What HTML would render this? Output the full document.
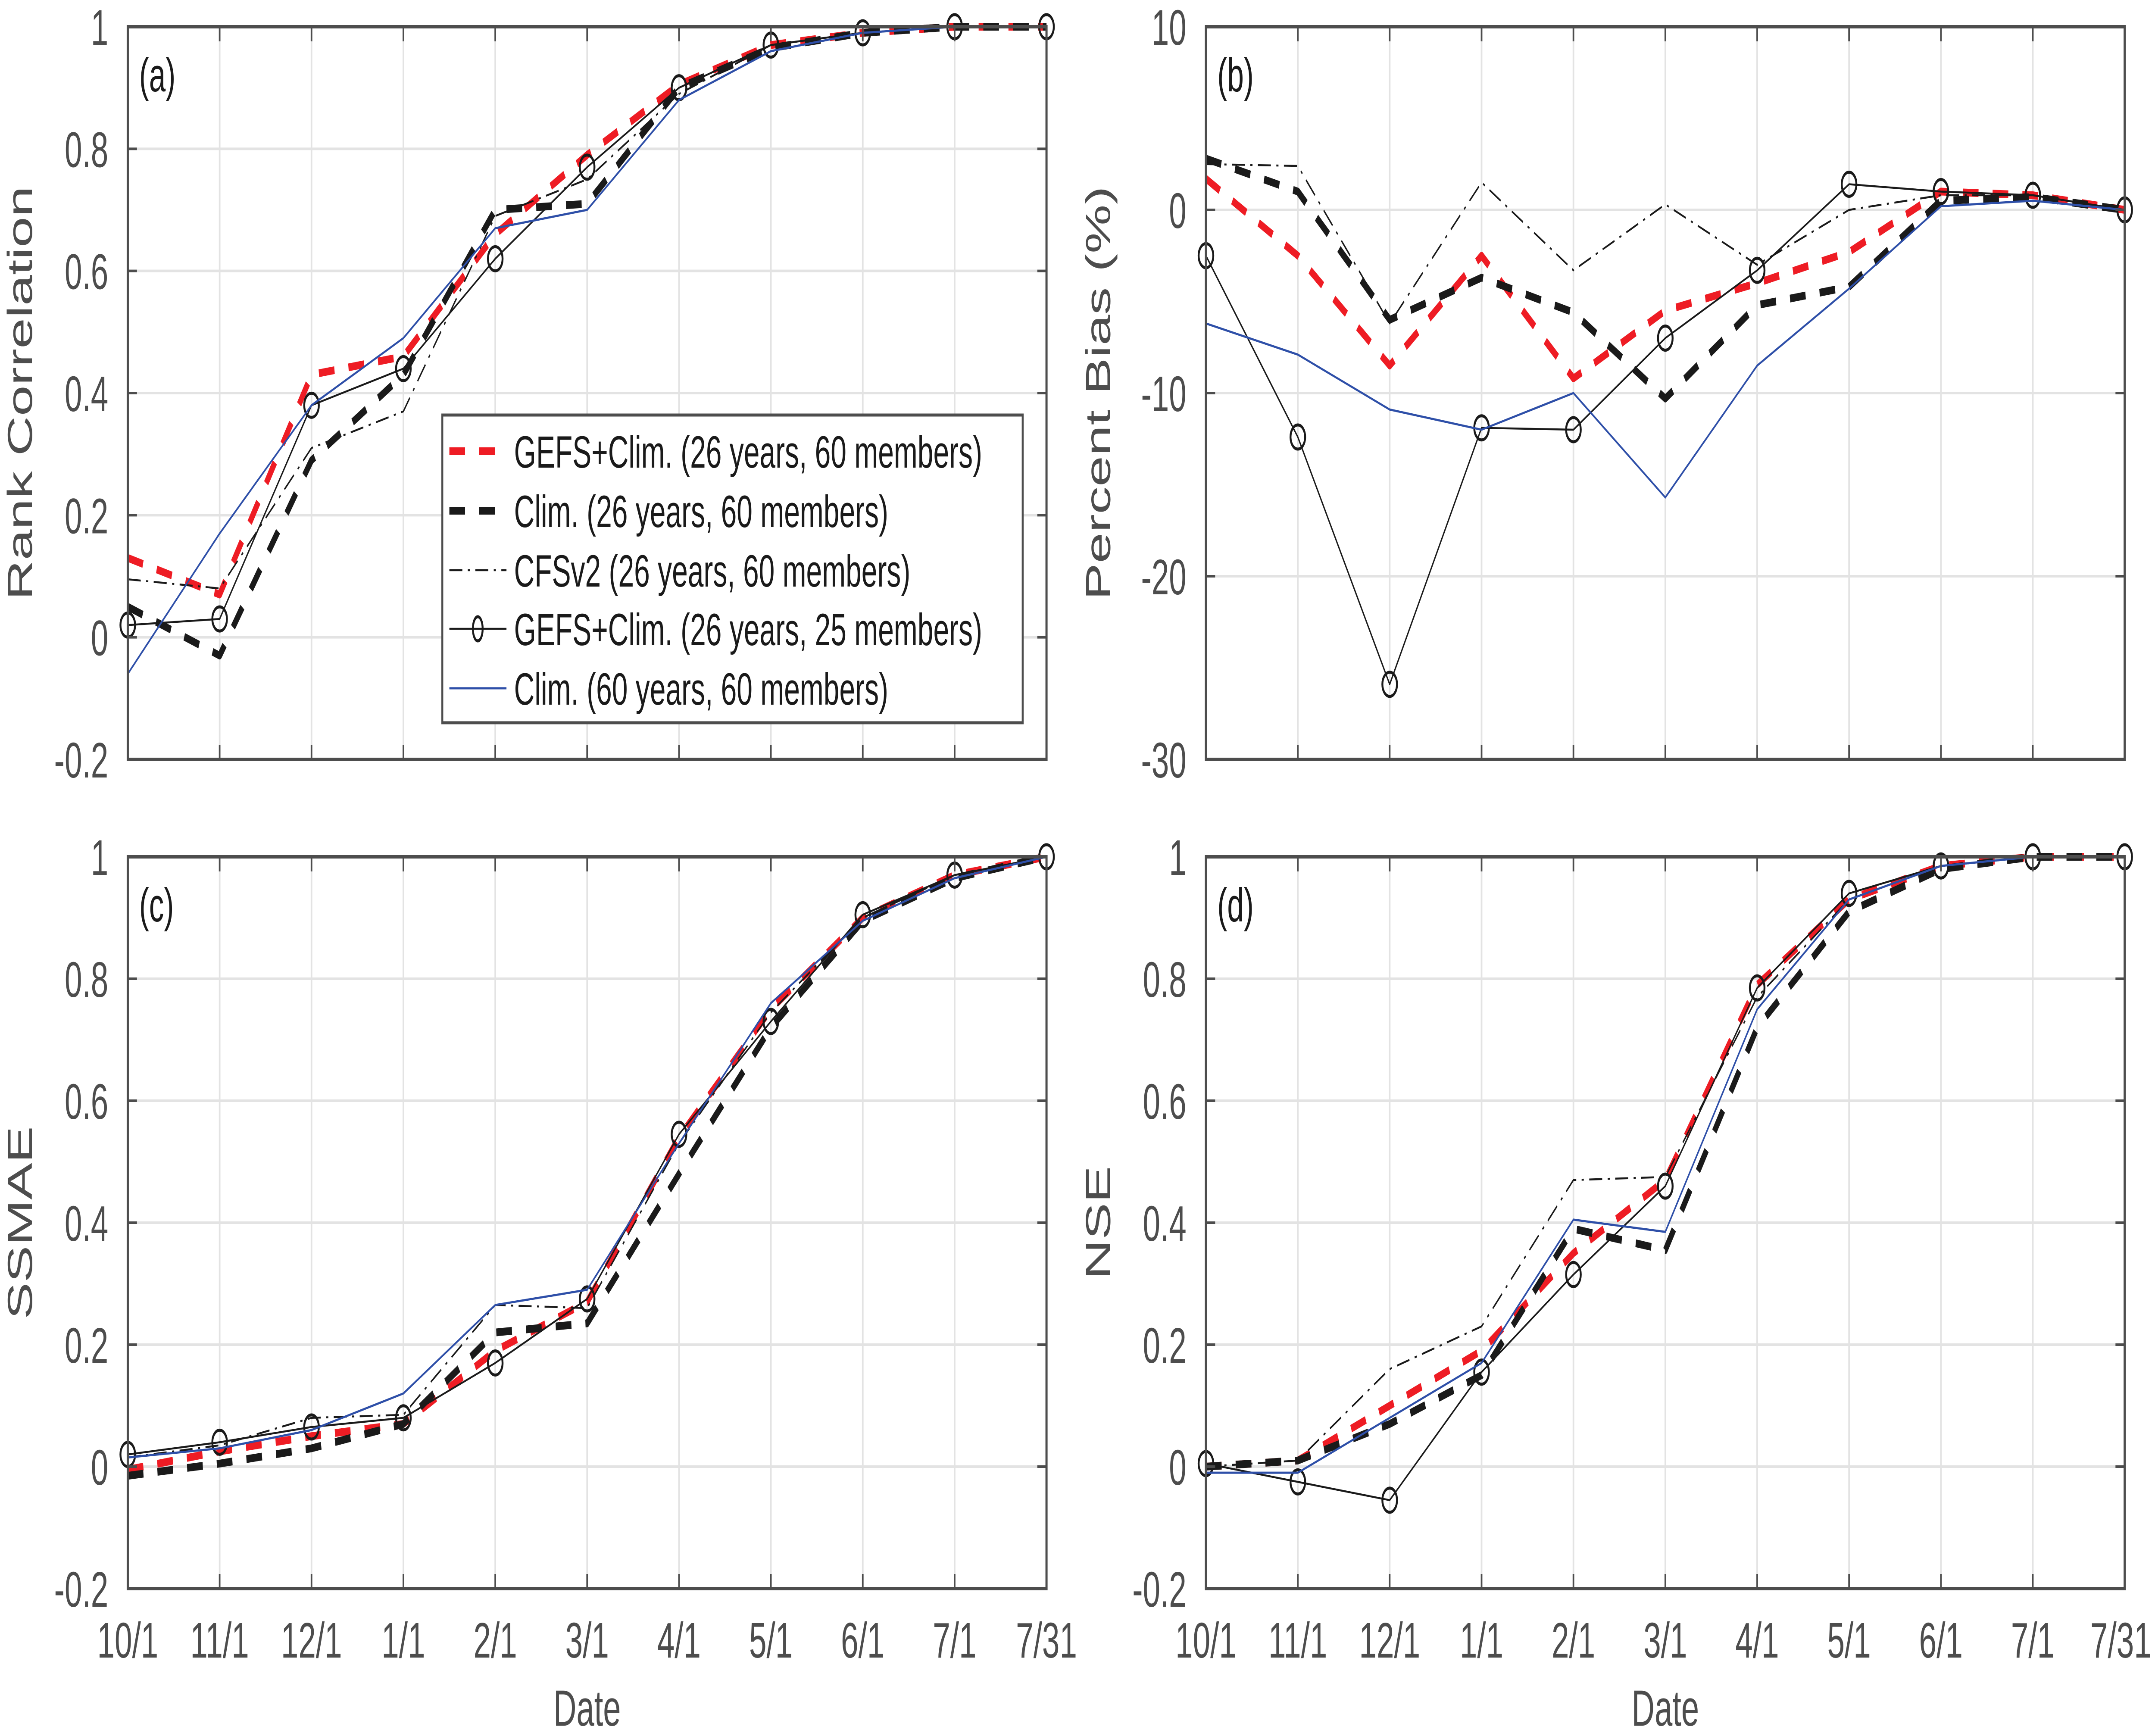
<!DOCTYPE html>
<html><head><meta charset="utf-8"><style>
html,body{margin:0;padding:0;background:#fff;overflow:hidden;}
svg{display:block;width:100vw;height:100vh;font-family:"Liberation Sans",Arial,sans-serif;}
</style></head><body>
<svg id="fig" viewBox="0 0 7961 4028" preserveAspectRatio="none" xmlns="http://www.w3.org/2000/svg" overflow="hidden"></svg>
<script>
const categories = ["10/1","11/1","12/1","1/1","2/1","3/1","4/1","5/1","6/1","7/1","7/31"];
const seriesNames = ["GEFS+Clim. (26 years, 60 members)","Clim. (26 years, 60 members)","CFSv2 (26 years, 60 members)","GEFS+Clim. (26 years, 25 members)","Clim. (60 years, 60 members)"];
const ticksA = [-0.2,0,0.2,0.4,0.6,0.8,1];
const ticksB = [-30,-20,-10,0,10];
const tickLabelsA = ["-0.2","0","0.2","0.4","0.6","0.8","1"];
const tickLabelsB = ["-30","-20","-10","0","10"];
// Panel (a) Rank Correlation
const aRed   = [0.13,0.07,0.43,0.46,0.66,0.79,0.905,0.97,0.99,1.0,1.0];
const aBlack = [0.05,-0.03,0.29,0.43,0.70,0.71,0.90,0.965,0.99,1.0,1.0];
const aCfs   = [0.095,0.08,0.31,0.37,0.69,0.75,0.89,0.97,0.99,1.0,1.0];
const aCirc  = [0.02,0.03,0.38,0.44,0.62,0.77,0.90,0.97,0.99,1.0,1.0];
const aBlue  = [-0.06,0.17,0.38,0.49,0.67,0.70,0.88,0.96,0.99,1.0,1.0];
// Panel (b) Percent Bias
const bRed   = [1.7,-2.5,-8.5,-2.5,-9.2,-5.5,-4.0,-2.3,1.0,0.8,0];
const bBlack = [2.8,1.0,-6.0,-3.7,-5.6,-10.3,-5.2,-4.2,0.5,0.7,0];
const bCfs   = [2.5,2.4,-6.2,1.5,-3.3,0.3,-3.0,0.0,0.8,0.8,0];
const bCirc  = [-2.5,-12.4,-25.9,-11.9,-12.0,-7.0,-3.3,1.4,1.0,0.8,0];
const bBlue  = [-6.2,-7.9,-10.9,-12.0,-10.0,-15.7,-8.5,-4.3,0.2,0.5,0];
// Panel (c) SSMAE
const cRed   = [-0.005,0.025,0.05,0.07,0.19,0.27,0.54,0.75,0.90,0.97,1.0];
const cBlack = [-0.015,0.005,0.03,0.07,0.22,0.235,0.48,0.72,0.895,0.965,1.0];
const cCfs   = [0.015,0.035,0.08,0.085,0.265,0.26,0.53,0.745,0.90,0.97,1.0];
const cCirc  = [0.02,0.04,0.065,0.08,0.17,0.275,0.545,0.73,0.905,0.97,1.0];
const cBlue  = [0.015,0.03,0.06,0.12,0.265,0.29,0.53,0.76,0.895,0.965,1.0];
// Panel (d) NSE
const dRed   = [0.0,0.01,0.10,0.19,0.35,0.47,0.79,0.93,0.985,1.0,1.0];
const dBlack = [0.0,0.01,0.07,0.15,0.39,0.355,0.72,0.91,0.98,1.0,1.0];
const dCfs   = [0.0,0.01,0.16,0.23,0.47,0.475,0.77,0.93,0.985,1.0,1.0];
const dCirc  = [0.005,-0.025,-0.055,0.155,0.315,0.46,0.785,0.94,0.985,1.0,1.0];
const dBlue  = [-0.01,-0.01,0.08,0.17,0.405,0.385,0.75,0.93,0.985,1.0,1.0];

const NS="http://www.w3.org/2000/svg";
const svg=document.getElementById('fig');
function mk(tag,attrs,parent){const e=document.createElementNS(NS,tag);for(const k in attrs)e.setAttribute(k,attrs[k]);(parent||svg).appendChild(e);return e;}
const AX="#4d4d4d";
const styles=[
 {stroke:"#ee1c24",w:18,dash:"58 52",marker:false},
 {stroke:"#1a1a1a",w:18,dash:"58 52",marker:false},
 {stroke:"#1a1a1a",w:4.5,dash:"48 20 8 20",marker:false},
 {stroke:"#1a1a1a",w:4.5,dash:"",marker:true},
 {stroke:"#2e4fa8",w:5,dash:"",marker:false}
];
function panel(cfg){
 const g=mk('g',{});
 
 
 const L=cfg.x0,R=cfg.x1,T=cfg.y0,B=cfg.y1;
 const xs=i=>L+(R-L)*i/(categories.length-1);
 const ys=v=>B-(B-T)*(v-cfg.min)/(cfg.max-cfg.min);
 categories.forEach((c,i)=>{ if(i>0&&i<categories.length-1){const l=mk('line',{x1:xs(i),x2:xs(i),y1:T,y2:B,stroke:"#e3e3e3","stroke-width":6},g);}});
 cfg.ticks.forEach(v=>{ if(v>cfg.min&&v<cfg.max){const l=mk('line',{x1:L,x2:R,y1:ys(v),y2:ys(v),stroke:"#e3e3e3","stroke-width":6},g);}});
 const data=cfg.series;
 data.forEach((arr,si)=>{
  const st=styles[si];
  const pts=arr.map((v,i)=>xs(i)+","+ys(v)).join(" ");
  const p=mk('polyline',{points:pts,fill:"none",stroke:st.stroke,"stroke-width":st.w,"stroke-dasharray":st.dash,"stroke-linejoin":"round"},g);
  
  
  if(st.marker){arr.forEach((v,i)=>{const c=mk('ellipse',{cx:xs(i),cy:ys(v),rx:27,ry:28,fill:"none",stroke:"#1a1a1a","stroke-width":7},g);});}
 });
 categories.forEach((c,i)=>{
  mk('line',{x1:xs(i),x2:xs(i),y1:B,y2:B-34,stroke:AX,"stroke-width":6},g);
  mk('line',{x1:xs(i),x2:xs(i),y1:T,y2:T+34,stroke:AX,"stroke-width":6},g);
  if(cfg.xlabels){
   let tx=xs(i), anchor="middle";
   if(tx>7830){tx=7948;anchor="end";}
   const t=mk('text',{x:tx,y:B+160,"text-anchor":anchor,"font-size":116,fill:AX},g);t.textContent=c;}
 });
 cfg.ticks.forEach((v,k)=>{
  mk('line',{x1:L,x2:L+34,y1:ys(v),y2:ys(v),stroke:AX,"stroke-width":6},g);
  mk('line',{x1:R,x2:R-34,y1:ys(v),y2:ys(v),stroke:AX,"stroke-width":6},g);
  const t=mk('text',{x:L-72,y:ys(v)+42,"text-anchor":"end","font-size":116,fill:AX},g);t.textContent=cfg.tickLabels[k];
  
 });
 const box=mk('rect',{x:L,y:T,width:R-L,height:B-T,fill:"none",stroke:AX,"stroke-width":8},g);
 
 const yl=mk('text',{x:0,y:0,transform:`translate(${L-354},${(T+B)/2}) rotate(-90)`,"text-anchor":"middle","font-size":128,fill:AX},g);
 yl.textContent=cfg.ylabel;
 const pl=mk('text',{x:L+42,y:T+150,"font-size":110,fill:"#1a1a1a"},g);
 pl.textContent=cfg.tag;
 if(cfg.xlabels){const d=mk('text',{x:(L+R)/2,y:B+318,"text-anchor":"middle","font-size":118,fill:AX},g);d.textContent="Date";}
}
const XL=[472,3866],XR=[4455,7849],YT=[62,1762],YB=[1988,3686];
panel({id:'a',tag:'(a)',x0:XL[0],x1:XL[1],y0:YT[0],y1:YT[1],min:-0.2,max:1,ticks:ticksA,tickLabels:tickLabelsA,ylabel:"Rank Correlation",series:[aRed,aBlack,aCfs,aCirc,aBlue],xlabels:false});
panel({id:'b',tag:'(b)',x0:XR[0],x1:XR[1],y0:YT[0],y1:YT[1],min:-30,max:10,ticks:ticksB,tickLabels:tickLabelsB,ylabel:"Percent Bias (%)",series:[bRed,bBlack,bCfs,bCirc,bBlue],xlabels:false});
panel({id:'c',tag:'(c)',x0:XL[0],x1:XL[1],y0:YB[0],y1:YB[1],min:-0.2,max:1,ticks:ticksA,tickLabels:tickLabelsA,ylabel:"SSMAE",series:[cRed,cBlack,cCfs,cCirc,cBlue],xlabels:true});
panel({id:'d',tag:'(d)',x0:XR[0],x1:XR[1],y0:YB[0],y1:YB[1],min:-0.2,max:1,ticks:ticksA,tickLabels:tickLabelsA,ylabel:"NSE",series:[dRed,dBlack,dCfs,dCirc,dBlue],xlabels:true});

const lg=mk('g',{});


const lb=mk('rect',{x:1634,y:963,width:2144,height:714,fill:"#fff",stroke:AX,"stroke-width":7},lg);


const ly=[1047,1185,1323,1459,1597];
seriesNames.forEach((n,i)=>{
 const st=styles[i];
 const e=mk('g',{},lg);
 
 
 mk('line',{x1:1660,x2:1871,y1:ly[i],y2:ly[i],stroke:st.stroke,"stroke-width":st.w,"stroke-dasharray":st.dash},e);
 if(st.marker) mk('ellipse',{cx:1765,cy:ly[i],rx:18,ry:28,fill:"none",stroke:"#1a1a1a","stroke-width":7},e);
 const t=mk('text',{x:1899,y:ly[i]+38,"font-size":105,fill:"#1a1a1a"},e);
 t.textContent=n;
});
</script>
</body></html>
